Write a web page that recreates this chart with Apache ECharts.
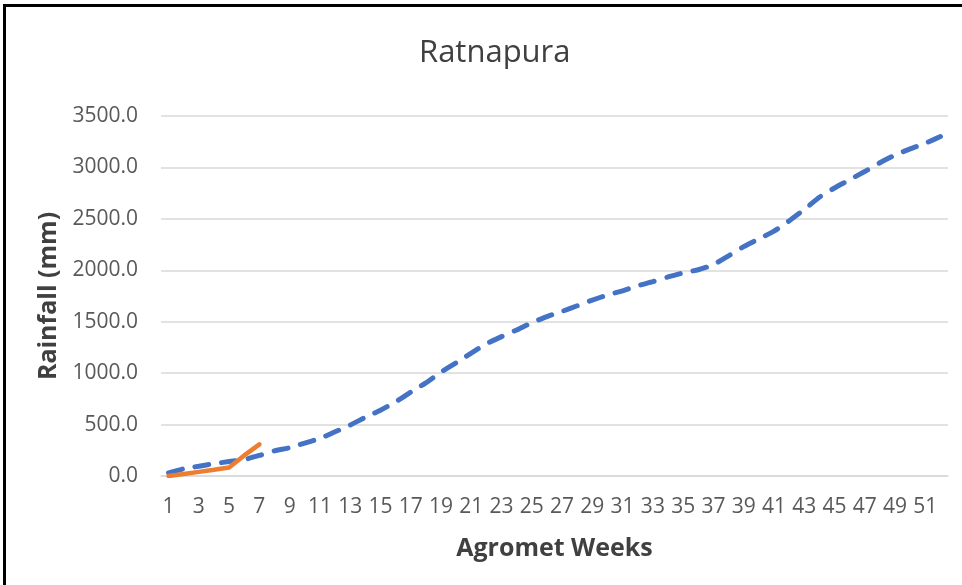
<!DOCTYPE html>
<html>
<head>
<meta charset="utf-8">
<script src="https://cdn.jsdelivr.net/npm/echarts@6/dist/echarts.min.js"></script>
<style>
  html, body { margin: 0; padding: 0; background: #fff; }
  #main { width: 962px; height: 585px; }
  #frame { position: absolute; left: 3px; top: 4px; width: 980px; height: 600px;
           border-left: 3px solid #000; border-top: 3px solid #000; pointer-events: none; }
</style>
</head>
<body>
<div id="main"></div>
<div id="frame"></div>
<script>
// weeks 1..52
var weeks = [];
for (var i = 1; i <= 52; i++) weeks.push(String(i));

// cumulative normal rainfall (mm)
var normalRain = [30, 70, 95, 120, 140, 160, 200, 245, 275, 320,
  365, 430, 495, 570, 640, 720, 815, 905, 1010, 1100,
  1195, 1285, 1355, 1420, 1490, 1550, 1600, 1655, 1710, 1760,
  1800, 1850, 1890, 1935, 1975, 2005, 2055, 2140, 2230, 2305,
  2380, 2480, 2590, 2710, 2800, 2880, 2960, 3045, 3120, 3180,
  3235, 3300];

// cumulative rainfall this year (first 7 weeks)
var actualRain = [0, 20, 40, 60, 82, 200, 308];

var yTicks = { min: 0, max: 3500, step: 500 };

var chart = echarts.init(document.getElementById('main'));

option = {
  backgroundColor: '#fff',
  animation: false,
  title: {
    text: 'Ratnapura',
    left: 414,
    top: 33,
    textStyle: { fontFamily: 'Open Sans', fontSize: 31, fontWeight: 'normal', color: '#404040' }
  },
  grid: { left: 161, right: 14, top: 116, bottom: 109 },
  xAxis: {
    type: 'category',
    data: weeks,
    boundaryGap: true,
    name: 'Agromet Weeks',
    nameLocation: 'middle',
    nameGap: 60,
    nameTextStyle: { fontFamily: 'Open Sans', fontSize: 25, fontWeight: 'bold', color: '#404040' },
    axisLine: { lineStyle: { color: '#d9d9d9', width: 1.5 } },
    axisTick: { show: false },
    axisLabel: {
      interval: 1,
      margin: 21,
      fontFamily: 'Open Sans', fontSize: 21, color: '#595959'
    }
  },
  yAxis: {
    type: 'value',
    min: yTicks.min,
    max: yTicks.max,
    interval: yTicks.step,
    name: 'Rainfall (mm)',
    nameLocation: 'middle',
    nameGap: 98,
    nameTextStyle: { fontFamily: 'Open Sans', fontSize: 25, fontWeight: 'bold', color: '#404040' },
    axisLine: { show: false },
    axisTick: { show: false },
    splitLine: { lineStyle: { color: '#d9d9d9', width: 1.5 } },
    axisLabel: {
      margin: 23,
      fontFamily: 'Open Sans', fontSize: 21, color: '#595959',
      formatter: function (v) { return v.toFixed(1); }
    }
  },
  series: [
    {
      name: 'Normal',
      type: 'line',
      data: normalRain,
      showSymbol: false,
      smooth: 0.2,
      lineStyle: { color: '#4472C4', width: 5, type: [14, 13], cap: 'round' },
      z: 2
    },
    {
      name: 'Actual',
      type: 'line',
      data: actualRain,
      showSymbol: false,
      lineStyle: { color: '#ED7D31', width: 4.5, cap: 'round' },
      z: 3
    }
  ]
};

chart.setOption(option);
</script>
</body>
</html>
